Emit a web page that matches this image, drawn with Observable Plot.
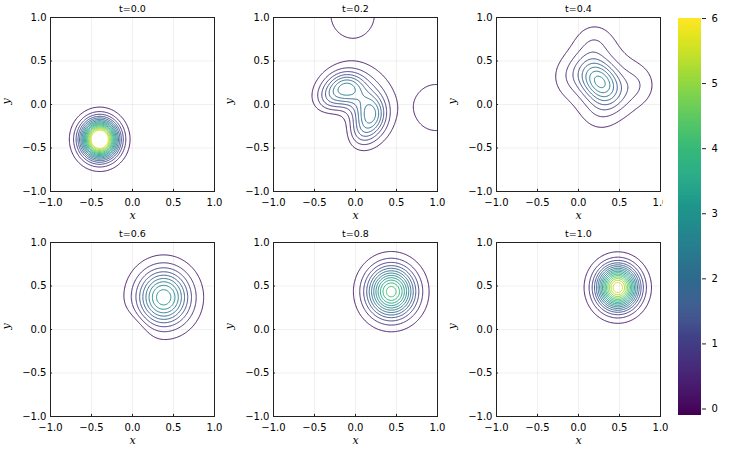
<!DOCTYPE html>
<html><head><meta charset="utf-8">
<script src="https://cdn.jsdelivr.net/npm/d3@7"></script>
<script src="https://cdn.jsdelivr.net/npm/@observablehq/plot@0.6"></script>
<style>
body{margin:0;background:#fff;}
#chart{position:relative;width:747px;height:449px;overflow:hidden;font-family:"DejaVu Sans",sans-serif;}
#chart svg{position:absolute;}
</style></head><body><div id="chart"></div>
<script>
const panelTitles = ["t=0.0", "t=0.2", "t=0.4", "t=0.6", "t=0.8", "t=1.0"];
const tickValues = [-1, -0.5, 0, 0.5, 1];
const colorTicks = [0, 1, 2, 3, 4, 5, 6];
const colorDomain = [-0.1, 6];
const contourLevels = [0.26, 0.62, 0.98, 1.34, 1.69, 2.05, 2.41, 2.77, 3.13, 3.49, 3.85, 4.20, 4.56, 4.92, 5.28, 5.64];

// Bumps: [amplitude, cx, cy, sx, sy, angle in degrees]
const bumps00 = [[7.4, -0.40, -0.40, 0.143, 0.143, 0]];
const bumps02 = [
  [0.42, -0.035, 1.03, 0.27, 0.27, 0],
  [0.42, 0.98, -0.035, 0.27, 0.27, 0],
  [2.2, -0.12, 0.19, 0.16, 0.13, 0],
  [2.2, 0.19, -0.12, 0.13, 0.16, 0],
  [0.7, 0.10, 0.10, 0.21, 0.21, 0],
  [0.8, -0.33, 0.07, 0.12, 0.12, 0],
  [0.8, 0.07, -0.33, 0.12, 0.12, 0],
  [-0.4, -0.32, -0.32, 0.16, 0.16, 0]
];
const bumps04 = [
  [2.3, 0.26, 0.26, 0.2, 0.14, -45],
  [0.42, 0.19, 0.70, 0.15, 0.15, 0],
  [0.3, -0.10, 0.32, 0.14, 0.14, 0],
  [0.3, 0.27, -0.08, 0.14, 0.14, 0],
  [0.45, 0.70, 0.22, 0.15, 0.15, 0],
  [0.6, 0.27, 0.28, 0.3, 0.3, 0]
];
const bumps06 = [
  [3.4, 0.38, 0.37, 0.215, 0.215, 0],
  [-0.5, -0.05, -0.05, 0.15, 0.15, 0]
];
const bumps08 = [[4.4, 0.436, 0.435, 0.194, 0.194, 0]];
const bumps10 = [[6.0, 0.479, 0.482, 0.164, 0.164, 0]];
const panelBumps = [bumps00, bumps02, bumps04, bumps06, bumps08, bumps10];

const panelLeft = [0, 222.7, 445.7];
const rowTop = [0.3, 224.7];

function field(bumps, x, y) {
  let s = 0;
  for (const [a, cx, cy, sx, sy, ang] of bumps) {
    const t = ang * Math.PI / 180;
    const dx = x - cx, dy = y - cy;
    const u = dx * Math.cos(t) + dy * Math.sin(t);
    const v = -dx * Math.sin(t) + dy * Math.cos(t);
    s += a * Math.exp(-0.5 * (u * u / (sx * sx) + v * v / (sy * sy)));
  }
  return s;
}

const fmt = d3.format(".1f");
const color = {type: "linear", scheme: "viridis", domain: colorDomain};
const chart = document.getElementById("chart");

function panel(i) {
  const n = 221, lo = -1.1, hi = 1.1;
  const values = [];
  for (let r = 0; r < n; r++) for (let c = 0; c < n; c++) {
    const x = lo + (c + 0.5) * (hi - lo) / n, y = lo + (r + 0.5) * (hi - lo) / n;
    values.push(field(panelBumps[i], x, y));
  }
  return Plot.plot({
    width: 224, height: 224, marginLeft: 50, marginRight: 10, marginTop: 17, marginBottom: 33,
    x: {domain: [-1, 1]}, y: {domain: [-1, 1]},
    color,
    style: {fontFamily: "DejaVu Sans", fontSize: "10px", background: "transparent", color: "#000"},
    marks: [
      Plot.gridX(tickValues, {stroke: "#000", strokeOpacity: 0.1, strokeWidth: 0.6}),
      Plot.gridY(tickValues, {stroke: "#000", strokeOpacity: 0.1, strokeWidth: 0.6}),
      Plot.contour(values, {width: n, height: n, x1: lo, y1: lo, x2: hi, y2: hi,
        thresholds: contourLevels, stroke: Plot.identity, fill: "none", strokeWidth: 1, clip: true}),
      Plot.frame({stroke: "#222", strokeWidth: 1}),
      Plot.ruleX(tickValues, {y1: -1, y2: -0.975, stroke: "#222"}),
      Plot.ruleY(tickValues, {x1: -1, x2: -0.975, stroke: "#222"}),
      Plot.axisX(tickValues, {tickSize: 0, tickPadding: 7.5, tickFormat: fmt, fontSize: 10}),
      Plot.axisY(tickValues, {tickSize: 0, tickPadding: 4, tickFormat: fmt, fontSize: 10}),
      Plot.text([panelTitles[i]], {frameAnchor: "top", dy: -12, fontSize: 9.5}),
      Plot.text(["x"], {frameAnchor: "bottom", dy: 27, fontStyle: "italic", fontFamily: "DejaVu Serif", fontSize: 11}),
      Plot.text(["y"], {frameAnchor: "left", dx: -44, rotate: -90, fontStyle: "italic", fontFamily: "DejaVu Serif", fontSize: 11})
    ]
  });
}

for (let i = 0; i < 6; i++) {
  const svg = panel(i);
  svg.style.left = panelLeft[i % 3] + "px";
  svg.style.top = rowTop[Math.floor(i / 3)] + "px";
  chart.appendChild(svg);
}

const steps = d3.range(0, 400);
const stepSize = (colorDomain[1] - colorDomain[0]) / 400;
const cb = Plot.plot({
  width: 84, height: 420, marginLeft: 15, marginRight: 46, marginTop: 18, marginBottom: 5,
  x: {domain: [0, 1], axis: null},
  y: {domain: colorDomain, axis: null},
  color,
  style: {fontFamily: "DejaVu Sans", fontSize: "10px", background: "#fff", color: "#000"},
  marks: [
    Plot.rect(steps, {x1: 0, x2: 1,
      y1: d => colorDomain[0] + d * stepSize,
      y2: d => Math.min(colorDomain[1], colorDomain[0] + (d + 1.6) * stepSize),
      fill: d => colorDomain[0] + (d + 0.5) * stepSize}),
    Plot.axisY(colorTicks, {anchor: "right", tickSize: 4, tickPadding: 6, fontSize: 10, stroke: "#222", tickFormat: d3.format("d")})
  ]
});
cb.style.left = "663px";
cb.style.top = "0px";
chart.appendChild(cb);
</script></body></html>
